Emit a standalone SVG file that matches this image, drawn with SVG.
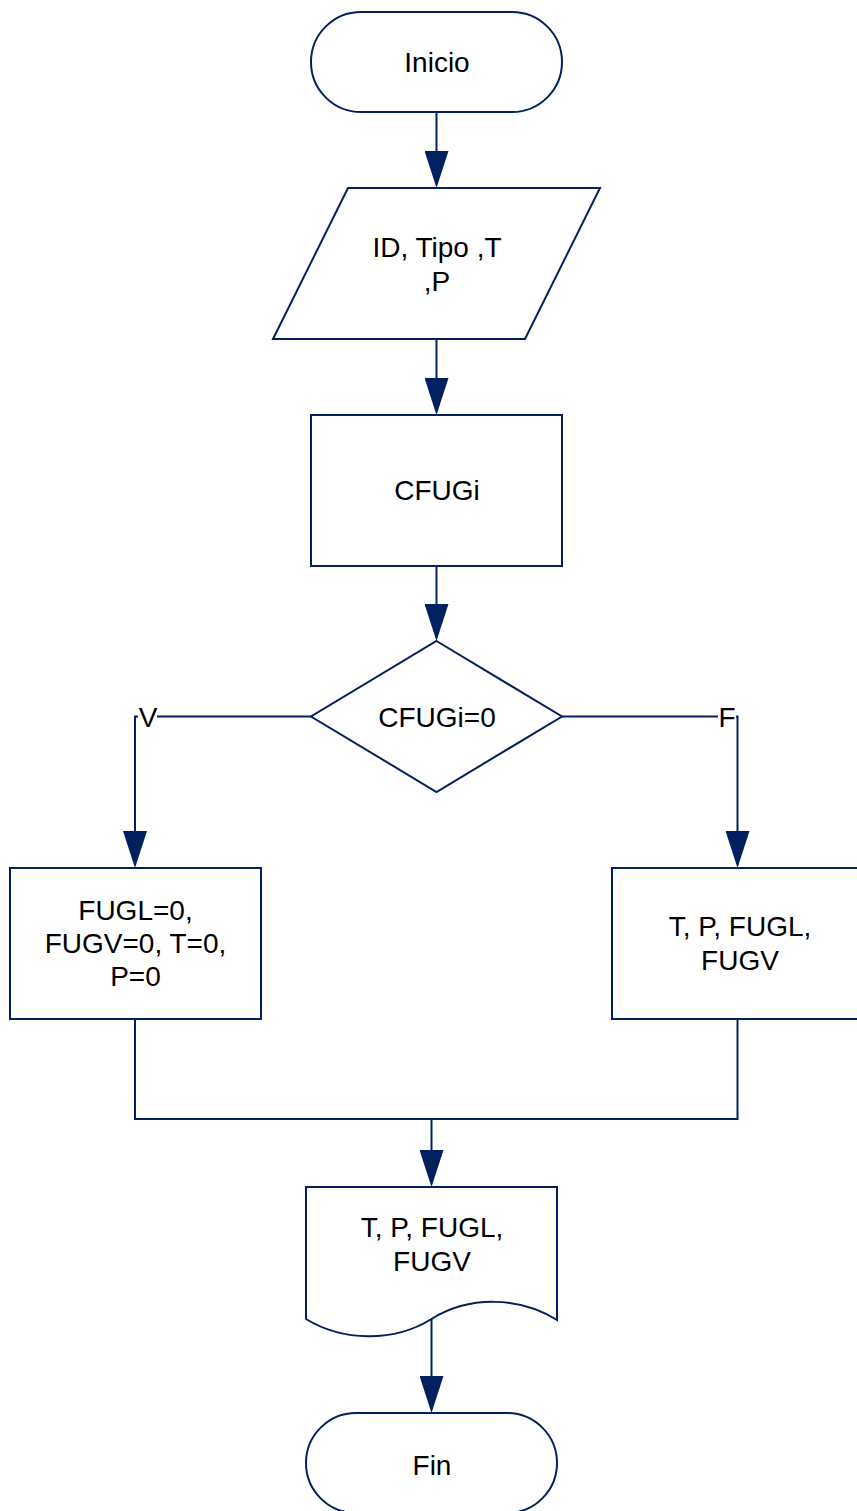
<svg xmlns="http://www.w3.org/2000/svg" width="857" height="1511" viewBox="0 0 857 1511">
<style>
.s{fill:#ffffff;stroke:#002060;stroke-width:2}
.c{fill:none;stroke:#002060;stroke-width:2}
.t{font-family:"Liberation Sans",Arial,sans-serif;font-size:28px;fill:#000000;text-anchor:middle}
.lb{fill:#ffffff;stroke:none}
</style>
<defs>
<marker id="arr" markerUnits="userSpaceOnUse" markerWidth="37" markerHeight="24" refX="33" refY="12" orient="auto">
<path d="M0,0 L37,12 L0,24 Z" fill="#002060"/>
</marker>
</defs>
<rect width="857" height="1511" fill="#ffffff"/>
<g id="connectors">
<line class="c" x1="436.5" y1="113" x2="436.5" y2="184" marker-end="url(#arr)"/>
<line class="c" x1="436.5" y1="339" x2="436.5" y2="411" marker-end="url(#arr)"/>
<line class="c" x1="436.5" y1="566" x2="436.5" y2="637" marker-end="url(#arr)"/>
<polyline class="c" points="311,716.5 135,716.5 135,864" marker-end="url(#arr)"/>
<polyline class="c" points="562,716.5 737.5,716.5 737.5,864" marker-end="url(#arr)"/>
<polyline class="c" points="135,1019 135,1119 737.5,1119 737.5,1019"/>
<line class="c" x1="431.5" y1="1119" x2="431.5" y2="1183" marker-end="url(#arr)"/>
<line class="c" x1="431.5" y1="1319" x2="431.5" y2="1409" marker-end="url(#arr)"/>
<rect class="lb" x="138" y="704" width="19" height="26"/>
<text class="t" x="148" y="727">V</text>
<rect class="lb" x="718" y="704" width="18" height="26"/>
<text class="t" x="727" y="727">F</text>
</g>
<g id="inicio">
<rect class="s" x="311" y="12" width="251" height="100" rx="50" ry="50"/>
<text class="t" x="437" y="72">Inicio</text>
</g>
<g id="entrada">
<polygon class="s" points="348,188 600,188 525,339 273,339"/>
<text class="t" x="437" y="257">ID, Tipo ,T</text>
<text class="t" x="437" y="291">,P</text>
</g>
<g id="cfugi">
<rect class="s" x="311" y="415" width="251" height="151"/>
<text class="t" x="437" y="500">CFUGi</text>
</g>
<g id="decision">
<polygon class="s" points="436.5,641 562,716.5 436.5,792 311,716.5"/>
<text class="t" x="437" y="727">CFUGi=0</text>
</g>
<g id="asignar">
<rect class="s" x="10" y="868" width="251" height="151"/>
<text class="t" x="135.5" y="920">FUGL=0,</text>
<text class="t" x="135.5" y="953">FUGV=0, T=0,</text>
<text class="t" x="135.5" y="986">P=0</text>
</g>
<g id="calcular">
<rect class="s" x="612" y="868" width="251" height="151"/>
<text class="t" x="740" y="936">T, P, FUGL,</text>
<text class="t" x="740" y="970">FUGV</text>
</g>
<g id="salida">
<path class="s" d="M306,1187 H557 V1320 C520,1297 470,1295 431.5,1319 C393,1343 342,1341 306,1319 Z"/>
<text class="t" x="432" y="1237">T, P, FUGL,</text>
<text class="t" x="432" y="1271">FUGV</text>
</g>
<g id="fin">
<rect class="s" x="306" y="1413" width="251" height="100" rx="50" ry="50"/>
<text class="t" x="432" y="1475">Fin</text>
</g>
</svg>
